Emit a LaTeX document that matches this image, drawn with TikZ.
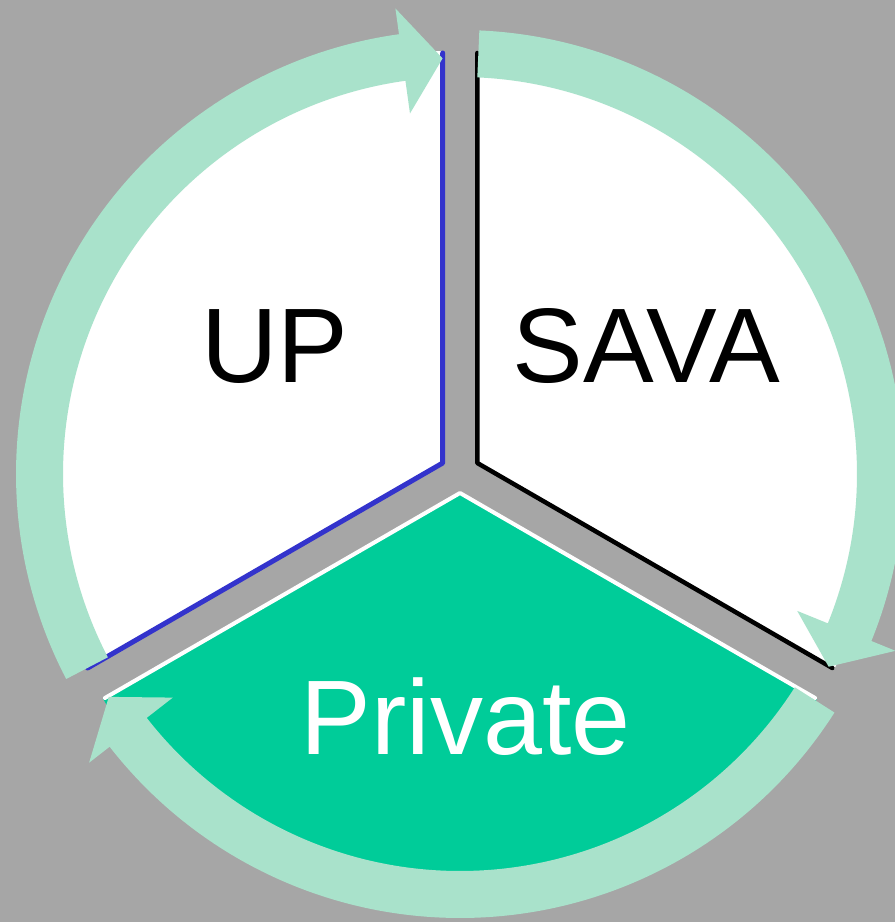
\documentclass[tikz,border=0pt]{standalone}
\usepackage{fontspec}
\setmainfont{Liberation Sans}
\usetikzlibrary{calc}
\definecolor{bggray}{RGB}{166,166,166}
\definecolor{ringcol}{RGB}{169,226,203}
\definecolor{privgreen}{RGB}{0,204,153}
\definecolor{upblue}{RGB}{51,51,204}
\begin{document}
\begin{tikzpicture}[x=1pt,y=1pt,
  lbl/.style={inner sep=0pt,anchor=base,font=\fontsize{106}{120}\selectfont},
  ring/.style={fill=ringcol},
  edge/.style={line join=round,line cap=round}]
\useasboundingbox (0,0) rectangle (895,922);
\clip (0,0) rectangle (895,922);
\fill[bggray] (0,0) rectangle (895,922);
% sector vertices
\coordinate (vup) at (442.7,459);
\coordinate (vsava) at (477.3,459);
\coordinate (vpriv) at (460,429);
\coordinate (c) at (460,448);
% UP sector
\fill[white] (vup) -- ++(90:412) arc[start angle=90,end angle=210,radius=412] -- cycle;
\draw[edge,upblue,line width=5pt] ($(vup)+(90:410)$) -- (vup) -- ($(vup)+(210:410)$);
% SAVA sector
\fill[white] (vsava) -- ++(90:412) arc[start angle=90,end angle=-30,radius=412] -- cycle;
\draw[edge,black,line width=4.5pt] ($(vsava)+(90:410)$) -- (vsava) -- ($(vsava)+(-30:410)$);
% Private sector
\fill[privgreen] (vpriv) -- ++(210:412) arc[start angle=210,end angle=330,radius=412] -- cycle;
\draw[edge,white,line width=4pt] ($(vpriv)+(210:410)$) -- (vpriv) -- ($(vpriv)+(330:410)$);
% ring arrows
\begin{scope}[shift={(c)}]
\foreach \t in {207.5,87.5,-32.5}{
  \pgfmathsetmacro{\tip}{\t-115.1}
  \pgfmathsetmacro{\base}{\t-109.6}
  \fill[ring] (\t:444) arc[start angle=\t,end angle=\base,radius=444]
    -- (\base:470) -- (\tip:416) -- (\base:364) -- (\base:397)
    arc[start angle=\base,end angle=\t,radius=397] -- cycle;
}
\end{scope}
% labels
\node[lbl] (up) at (275,539) {UP};
\node[lbl] (sava) at (646.5,539) {SAVA};
\node[lbl,text=white] (priv) at (465.5,167) {Private};
\end{tikzpicture}
\end{document}
